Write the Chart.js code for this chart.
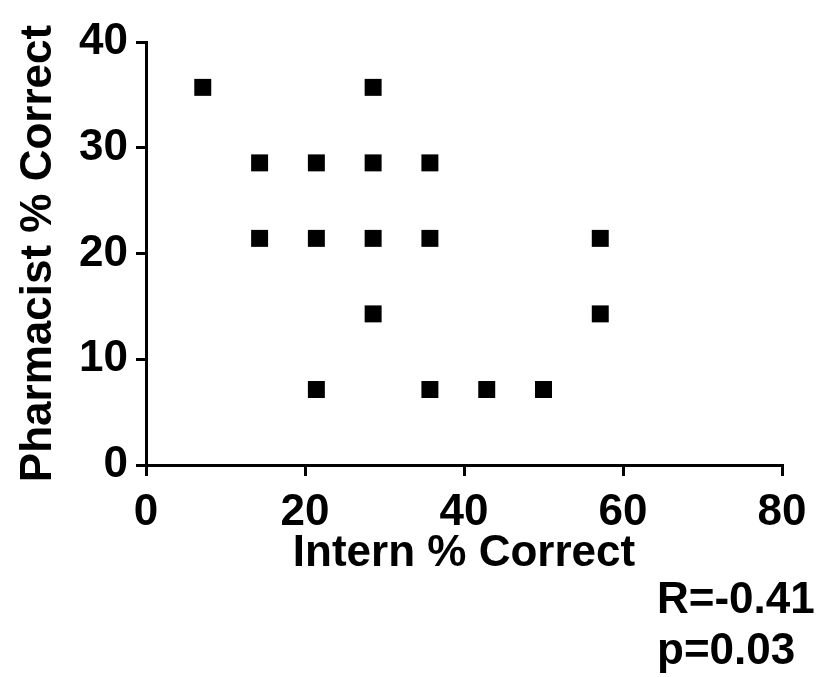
<!DOCTYPE html>
<html>
<head>
<meta charset="utf-8">
<script src="https://cdn.jsdelivr.net/npm/chart.js@4"></script>
<style>
    html, body { margin: 0; padding: 0; background: #fff; }
    #wrap { width: 823px; height: 677px; position: relative; }
</style>
</head>
<body>
<div id="wrap"><canvas id="chart"></canvas></div>
<script>
// Data (scores are multiples of 1/14)
const internPct =     [7.14, 28.57, 14.29, 21.43, 28.57, 35.71, 14.29, 21.43, 28.57, 35.71, 57.14, 28.57, 57.14, 21.43, 35.71, 42.86, 50.0];
const pharmacistPct = [35.71, 35.71, 28.57, 28.57, 28.57, 28.57, 21.43, 21.43, 21.43, 21.43, 21.43, 14.29, 14.29, 7.14, 7.14, 7.14, 7.14];
const xTicks = [0, 20, 40, 60, 80];
const yTicks = [0, 10, 20, 30, 40];
const statsLines = ['R=-0.41', 'p=0.03'];

const FONT = "'Liberation Sans', Arial, sans-serif";

// Stats text in the bottom right corner
const statsText = {
    id: 'statsText',
    afterDraw(chart) {
        const ctx = chart.ctx;
        ctx.save();
        ctx.fillStyle = '#000';
        ctx.font = `bold 44px ${FONT}`;
        ctx.textAlign = 'left';
        ctx.textBaseline = 'alphabetic';
        ctx.fillText(statsLines[0], 657, 613);
        ctx.fillText(statsLines[1], 657, 664);
        ctx.restore();
    }
};

const points = internPct.map((x, i) => ({ x: x, y: pharmacistPct[i] }));

new Chart(document.getElementById('chart'), {
    type: 'scatter',
    data: {
        datasets: [{
            data: points,
            pointStyle: 'rect',
            pointRadius: 12,
            pointHoverRadius: 12,
            backgroundColor: '#000',
            borderWidth: 0
        }]
    },
    options: {
        responsive: true,
        maintainAspectRatio: false,
        animation: false,
        events: [],
        layout: { padding: { top: 42, right: 41, bottom: 100, left: 0 } },
        plugins: {
            legend: { display: false },
            tooltip: { enabled: false }
        },
        scales: {
            x: {
                type: 'linear',
                min: 0,
                max: 80,
                afterBuildTicks: axis => { axis.ticks = xTicks.map(v => ({ value: v })); },
                afterFit: axis => { axis.height = 112; },
                border: { display: true, color: '#000', width: 3 },
                grid: { drawOnChartArea: false, drawTicks: true, tickLength: 11, color: '#000', lineWidth: 3 },
                ticks: {
                    color: '#000',
                    padding: 10,
                    maxRotation: 0,
                    font: { family: FONT, size: 44, weight: 'bold' }
                },
                title: {
                    display: true,
                    text: 'Intern % Correct',
                    color: '#000',
                    padding: { top: 0, bottom: 1 },
                    font: { family: FONT, size: 44, weight: 'bold', lineHeight: 1 }
                }
            },
            y: {
                type: 'linear',
                min: 0,
                max: 40,
                afterBuildTicks: axis => { axis.ticks = yTicks.map(v => ({ value: v })); },
                afterFit: axis => { axis.width = 146; },
                border: { display: true, color: '#000', width: 3 },
                grid: { drawOnChartArea: false, drawTicks: true, tickLength: 10, color: '#000', lineWidth: 3 },
                ticks: {
                    color: '#000',
                    padding: 8,
                    font: { family: FONT, size: 44, weight: 'bold' }
                },
                title: {
                    display: true,
                    text: 'Pharmacist % Correct',
                    color: '#000',
                    padding: { top: 17, bottom: 0 },
                    font: { family: FONT, size: 44, weight: 'bold', lineHeight: 1 }
                }
            }
        }
    },
    plugins: [statsText]
});
</script>
</body>
</html>
